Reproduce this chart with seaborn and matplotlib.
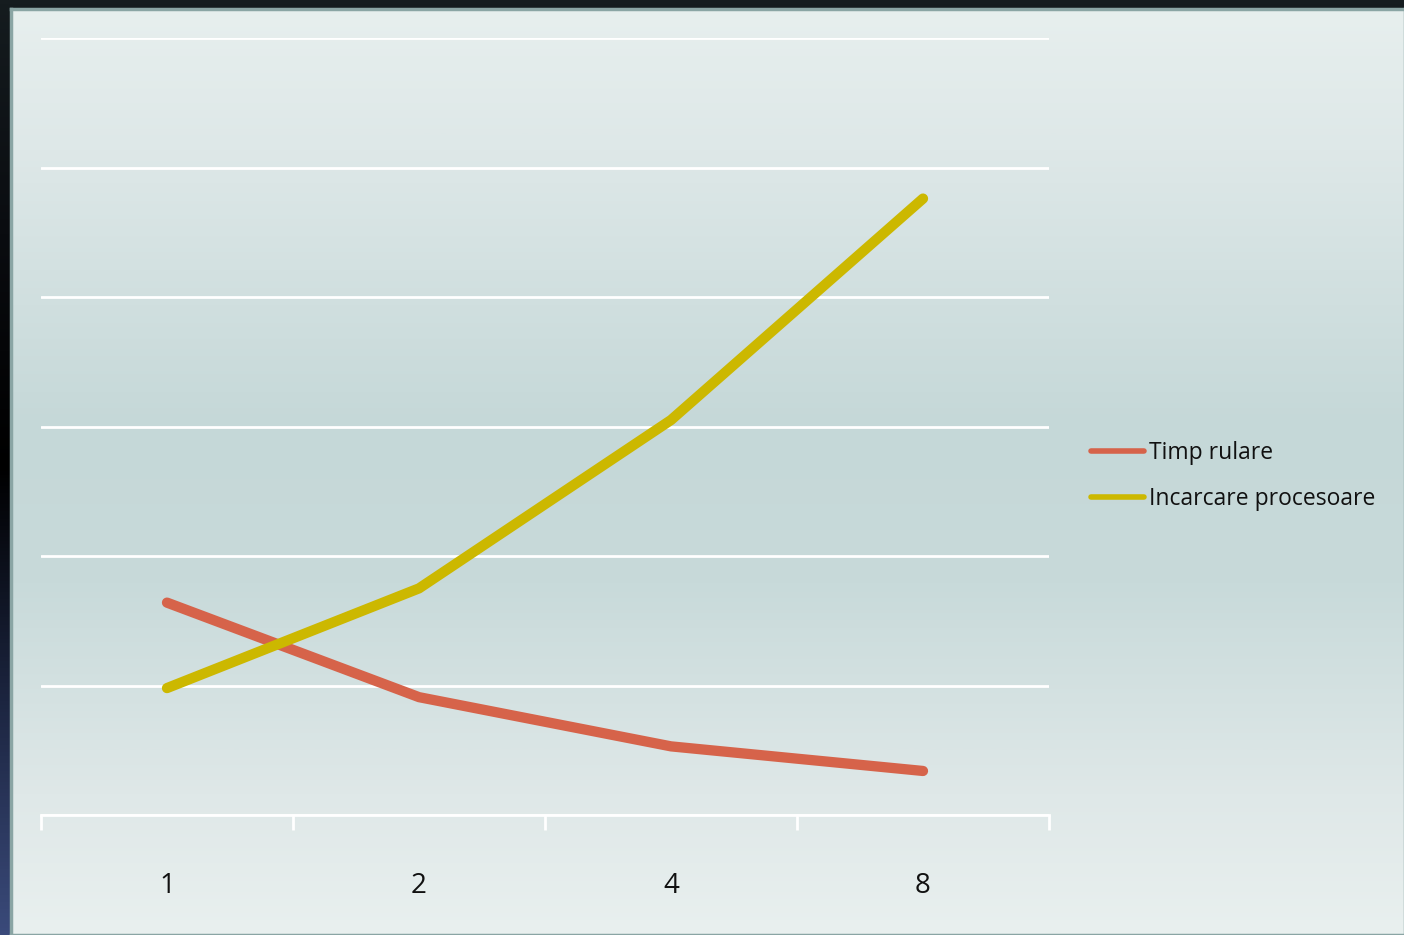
import numpy as np
import pandas as pd
import matplotlib
matplotlib.use("Agg")
import matplotlib.pyplot as plt
from matplotlib.colors import LinearSegmentedColormap
from matplotlib.ticker import FixedLocator
import seaborn as sns

# Data
procesoare = ["1", "2", "4", "8"]
timp_rulare = [1.64, 0.91, 0.53, 0.34]
incarcare_procesoare = [0.98, 1.75, 3.05, 4.76]
serii = ["Timp rulare", "Incarcare procesoare"]

df = pd.DataFrame({
    "Procesoare": procesoare * 2,
    "Valoare": timp_rulare + incarcare_procesoare,
    "Serie": [serii[0]] * 4 + [serii[1]] * 4,
})

sns.set_theme(style="white")
plt.rcParams["font.family"] = ["Open Sans", "DejaVu Sans"]

W, H = 1404, 935
fig = plt.figure(figsize=(W / 100, H / 100), dpi=100)
fig.patch.set_facecolor("#0c1214")

# Dark frame: left edge fades to blue toward the bottom
frame = fig.add_axes([0, 0, 1, 1])
frame.set_axis_off()
edge = np.linspace(0, 1, 256).reshape(-1, 1)
edge_cmap = LinearSegmentedColormap.from_list(
    "edge", ["#151c1f", "#0a0c10", "#000000", "#1c2540", "#3a4a7a"])
frame.imshow(edge, cmap=edge_cmap, aspect="auto", extent=[0, 1, 0, 1], zorder=0)
frame.set_xlim(0, 1)
frame.set_ylim(0, 1)

# Slide panel with soft vertical gradient
px0, ptop = 11, 9
panel = fig.add_axes([px0 / W, 0, (W - px0 + 1) / W, (H - ptop) / H])
panel.set_axis_off()
grad = np.linspace(0, 1, 512).reshape(-1, 1)
panel_cmap = LinearSegmentedColormap.from_list(
    "panel", [(0.0, "#e7efee"), (0.15, "#dee8e8"), (0.45, "#c5d8d8"),
              (0.62, "#c8dada"), (0.85, "#dfe8e8"), (1.0, "#e9f0ef")])
panel.imshow(grad, cmap=panel_cmap, aspect="auto", extent=[0, 1, 0, 1])
panel.set_xlim(0, 1)
panel.set_ylim(0, 1)
for s in panel.spines.values():
    s.set_visible(True)
    s.set_color("#8aa5a4")
    s.set_linewidth(2.5)
panel.set_axis_on()
panel.set_xticks([])
panel.set_yticks([])

# Chart area
left, right, top, bottom = 41, 1049, 38, 815
ax = fig.add_axes([left / W, (H - bottom) / H, (right - left) / W, (bottom - top) / H])
ax.patch.set_alpha(0)

sns.lineplot(
    data=df, x="Procesoare", y="Valoare", hue="Serie", hue_order=serii,
    palette=["#d6634a", "#ccb800"], linewidth=7.4, sort=False,
    solid_capstyle="round", ax=ax, zorder=3,
)

ax.set_xlim(-0.5, 3.5)
ax.set_ylim(0, 6)
ax.set_yticks(range(0, 7))
ax.set_yticklabels([])
ax.tick_params(axis="y", length=0)
ax.grid(axis="y", color="white", linewidth=2, zorder=1)
ax.grid(axis="x", visible=False)
ax.set_xlabel("")
ax.set_ylabel("")

for name in ["left", "right", "top"]:
    ax.spines[name].set_visible(False)
ax.spines["bottom"].set_color("white")
ax.spines["bottom"].set_linewidth(2)

ax.xaxis.set_minor_locator(FixedLocator([-0.5, 0.5, 1.5, 2.5, 3.5]))
ax.tick_params(axis="x", which="minor", length=11, width=2, color="white",
               direction="out", bottom=True)
ax.tick_params(axis="x", which="major", length=0, pad=41, labelsize=20,
               labelcolor="#111111")

leg = ax.legend(
    loc="center left", bbox_to_anchor=(1080 / W, (H - 476) / H),
    bbox_transform=fig.transFigure, frameon=False, fontsize=16.5,
    borderpad=0, handlelength=2.3, handletextpad=0.2, labelspacing=0.95,
)
for line in leg.get_lines():
    line.set_linewidth(4)
for t in leg.get_texts():
    t.set_color("#111111")

fig.savefig("out.png", dpi=100)
